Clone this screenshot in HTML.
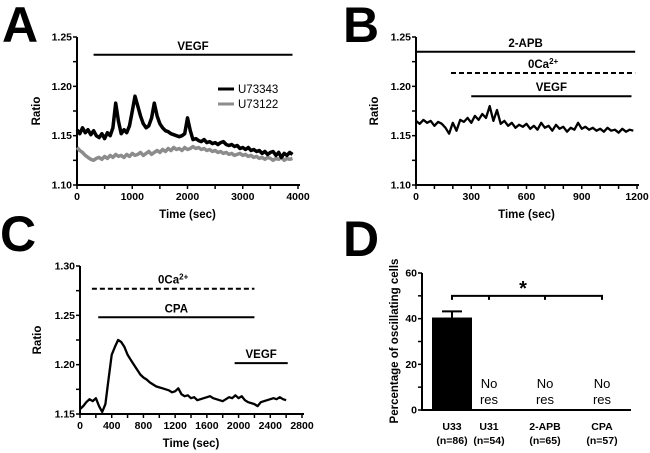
<!DOCTYPE html>
<html><head><meta charset="utf-8"><style>
html,body{margin:0;padding:0;background:#fff;}
svg{display:block;font-family:"Liberation Sans",Arial,sans-serif;}
.tk{font-size:10.5px;font-weight:bold;fill:#000;}
.ti{font-size:11.5px;font-weight:bold;fill:#000;}
.lt{font-size:50px;font-weight:bold;fill:#000;}
</style></head><body>
<svg id="fig" width="650" height="453" viewBox="0 0 650 453">
<text class="lt" x="2" y="42">A</text>
<text class="lt" x="343" y="42">B</text>
<text class="lt" x="0" y="251">C</text>
<text class="lt" x="343" y="256">D</text>
</svg>
<script>
// ---- Panel A data (step 50 s) ----
const aStep = 50;
const aU73343 = [1.156,1.152,1.158,1.153,1.156,1.151,1.155,1.150,1.148,1.152,1.147,1.153,1.150,1.158,1.183,1.165,1.152,1.156,1.153,1.160,1.175,1.190,1.180,1.170,1.162,1.158,1.160,1.168,1.183,1.170,1.162,1.158,1.155,1.154,1.152,1.151,1.150,1.149,1.150,1.152,1.168,1.155,1.146,1.147,1.145,1.144,1.146,1.143,1.144,1.142,1.143,1.141,1.143,1.144,1.141,1.140,1.141,1.139,1.140,1.137,1.138,1.136,1.138,1.135,1.136,1.134,1.135,1.132,1.134,1.131,1.133,1.134,1.130,1.133,1.128,1.132,1.130,1.133,1.131];
const aU73122 = [1.138,1.135,1.133,1.130,1.128,1.126,1.125,1.127,1.128,1.126,1.129,1.127,1.130,1.128,1.131,1.129,1.130,1.128,1.131,1.129,1.132,1.130,1.131,1.133,1.130,1.132,1.134,1.131,1.133,1.135,1.133,1.136,1.134,1.137,1.135,1.138,1.136,1.137,1.135,1.138,1.136,1.137,1.139,1.137,1.138,1.136,1.137,1.135,1.136,1.134,1.135,1.133,1.134,1.132,1.133,1.131,1.132,1.130,1.131,1.132,1.130,1.131,1.129,1.130,1.128,1.129,1.127,1.128,1.126,1.128,1.127,1.125,1.127,1.126,1.128,1.125,1.127,1.126,1.127];
const aXTicks = [0,1000,2000,3000,4000];
const aYTicks = [1.10,1.15,1.20,1.25];
// ---- Panel B data (step 20 s) ----
const bStep = 20;
const bTrace = [1.165,1.162,1.166,1.163,1.165,1.160,1.164,1.162,1.158,1.152,1.163,1.155,1.166,1.164,1.168,1.163,1.170,1.166,1.172,1.168,1.180,1.165,1.176,1.162,1.165,1.160,1.163,1.158,1.161,1.159,1.162,1.157,1.160,1.156,1.163,1.158,1.160,1.155,1.161,1.157,1.159,1.154,1.158,1.156,1.163,1.157,1.159,1.156,1.158,1.155,1.157,1.154,1.158,1.155,1.156,1.153,1.157,1.154,1.156,1.155];
const bXTicks = [0,300,600,900,1200];
const bYTicks = [1.10,1.15,1.20,1.25];
// ---- Panel C data (step 40 s) ----
const cStep = 40;
const cTrace = [1.155,1.158,1.162,1.165,1.163,1.166,1.158,1.152,1.160,1.185,1.210,1.218,1.225,1.223,1.218,1.210,1.205,1.200,1.195,1.190,1.187,1.185,1.182,1.180,1.178,1.177,1.176,1.175,1.174,1.172,1.173,1.176,1.170,1.168,1.169,1.166,1.167,1.164,1.165,1.166,1.167,1.168,1.166,1.165,1.164,1.163,1.165,1.167,1.166,1.169,1.166,1.168,1.164,1.162,1.161,1.160,1.158,1.162,1.163,1.164,1.165,1.166,1.165,1.167,1.165,1.164];
const cXTicks = [0,400,800,1200,1600,2000,2400,2800];
const cYTicks = [1.15,1.20,1.25,1.30];
// ---- Panel D data ----
const dCats = ["U33","U31","2-APB","CPA"];
const dN = ["(n=86)","(n=54)","(n=65)","(n=57)"];
const dValues = [40.5,0,0,0];
const dErr = [2.7,0,0,0];
const dYTicks = [0,20,40,60];

const NS="http://www.w3.org/2000/svg";
const svg=document.getElementById('fig');
function el(tag,attrs,parent,text){const e=document.createElementNS(NS,tag);for(const k in attrs)e.setAttribute(k,attrs[k]);if(text!==undefined)e.textContent=text;(parent||svg).appendChild(e);return e;}
function scale(d0,d1,r0,r1){return v=>r0+(v-d0)*(r1-r0)/(d1-d0);}

function axes(g,x,y,xt,yt,xMinorStep,yMinorStep,fmtX,fmtY,x0px,x1px,y0px,y1px,xExt,yTitle,yTitleX,xTitleY){
  const xa=el('line',{x1:x0px,y1:y0px,x2:xExt,y2:y0px,stroke:'#000','stroke-width':2},g);
  
  
  const ya=el('line',{x1:x0px,y1:y0px+1,x2:x0px,y2:y1px,stroke:'#000','stroke-width':2},g);
  
  
  const xm=xt[0],xM=xt[xt.length-1];
  for(let v=xm;v<=xM+1e-9;v+=xMinorStep){el('line',{x1:x(v),y1:y0px,x2:x(v),y2:y0px+4,stroke:'#000','stroke-width':1.5},g);}
  xt.forEach(v=>{const t=el('text',{x:x(v),y:y0px+15,class:'tk','text-anchor':'middle'},g,fmtX(v));
    
    });
  const ym=yt[0],yM=yt[yt.length-1];
  for(let v=ym;v<=yM+1e-9;v+=yMinorStep){el('line',{x1:x0px-4,y1:y(v),x2:x0px,y2:y(v),stroke:'#000','stroke-width':1.5},g);}
  yt.forEach(v=>{const t=el('text',{x:x0px-5,y:y(v)+3.5,class:'tk','text-anchor':'end'},g,fmtY(v));
    
    });
  const yl=el('text',{x:yTitleX,y:(y0px+y1px)/2,class:'ti','text-anchor':'middle',transform:`rotate(-90 ${yTitleX} ${(y0px+y1px)/2})`},g,yTitle);
  
  
  if(xTitleY){const xl=el('text',{x:(x0px+x1px)/2,y:xTitleY,class:'ti','text-anchor':'middle'},g,'Time (sec)');
    
    }
}
function trace(g,vals,step,x,y,color,w,name){
  const d=vals.map((v,i)=>(i?'L':'M')+x(i*step).toFixed(1)+' '+y(v).toFixed(1)).join('');
  const p=el('path',{d:d,fill:'none',stroke:color,'stroke-width':w,'stroke-linejoin':'round'},g);
  
  
}
function bar(g,x,y,t0,t1,val,label,dashed,name,sup){
  const l=el('line',{x1:x(t0),y1:y(val),x2:x(t1),y2:y(val),stroke:'#000','stroke-width':2,'stroke-dasharray':dashed?'5,3':'none'},g);
  
  
  const t=el('text',{x:(x(t0)+x(t1))/2,y:y(val)-5,class:'ti','text-anchor':'middle'},g,label);
  if(sup){const s=el('tspan',{dy:-4,'font-size':'8px'},t,sup);}
  
  
}
const f2=v=>v.toFixed(2), f0=v=>String(v);

// Panel A
{const g=el('g',{});
 const x=scale(0,4000,77,298), y=scale(1.10,1.25,185,37);
 axes(g,x,y,aXTicks,aYTicks,500,0.025,f0,f2,77,298,185,37,300,'Ratio',40,218);
 trace(g,aU73122,aStep,x,y,'#8c8c8c',3.5,'series-u73122');
 trace(g,aU73343,aStep,x,y,'#000',3.5,'series-u73343');
 bar(g,x,y,300,3900,1.232,'VEGF',false,'vegf');
 const l1=el('line',{x1:218,y1:89,x2:234,y2:89,stroke:'#000','stroke-width':3},g);
 const t1=el('text',{x:238,y:93,'font-size':'11.5px'},g,'U73343');
 const l2=el('line',{x1:218,y1:104,x2:234,y2:104,stroke:'#8c8c8c','stroke-width':3},g);
 const t2=el('text',{x:238,y:108,'font-size':'11.5px'},g,'U73122');
}
// Panel B
{const g=el('g',{});
 const x=scale(0,1200,416,637), y=scale(1.10,1.25,185,37);
 axes(g,x,y,bXTicks,bYTicks,100,0.025,f0,f2,416,637,185,37,639,'Ratio',378,218);
 trace(g,bTrace,bStep,x,y,'#000',2.3,'series-trace-b');
 bar(g,x,y,0,1190,1.235,'2-APB',false,'2apb');
 bar(g,x,y,190,1190,1.2135,'0Ca',true,'zero-ca','2+');
 bar(g,x,y,300,1170,1.190,'VEGF',false,'vegf-b');
}
// Panel C
{const g=el('g',{});
 const x=scale(0,2800,80,302), y=scale(1.15,1.30,414,266);
 axes(g,x,y,cXTicks,cYTicks,200,0.025,f0,f2,80,302,414,266,304,'Ratio',41,447);
 trace(g,cTrace,cStep,x,y,'#000',2.3,'series-trace-c');
 bar(g,x,y,150,2200,1.277,'0Ca',true,'zero-ca-c','2+');
 bar(g,x,y,230,2200,1.248,'CPA',false,'cpa');
 bar(g,x,y,1950,2620,1.2015,'VEGF',false,'vegf-c');
}
// Panel D
{const g=el('g',{});
 const y=scale(0,60,410,273);
 const cx=[452,489,545,602];
 const xa=el('line',{x1:422,y1:410,x2:631,y2:410,stroke:'#000','stroke-width':2},g);
 
 const ya=el('line',{x1:422,y1:411,x2:422,y2:273,stroke:'#000','stroke-width':2},g);
 
 for(let v=0;v<=60;v+=10)el('line',{x1:418,y1:y(v),x2:422,y2:y(v),stroke:'#000','stroke-width':1.5},g);
 dYTicks.forEach(v=>{const t=el('text',{x:417,y:y(v)+3.5,class:'tk','text-anchor':'end'},g,String(v));
   });
 const yl=el('text',{x:398,y:341,class:'ti','text-anchor':'middle',transform:'rotate(-90 398 341)'},g,'Percentage of oscillating cells');
 
 dCats.forEach((c,i)=>{
   if(dValues[i]>0){
     const r=el('rect',{x:cx[i]-20,y:y(dValues[i]),width:40,height:y(0)-y(dValues[i]),fill:'#000'},g);
     
     const e=el('path',{d:`M${cx[i]} ${y(dValues[i])}V${y(dValues[i]+dErr[i])}M${cx[i]-10} ${y(dValues[i]+dErr[i])}H${cx[i]+10}`,stroke:'#000','stroke-width':2,fill:'none'},g);
     
   } else {
     const t=el('text',{x:cx[i],y:388,'font-size':'13px','text-anchor':'middle'},g,'No');
     
     const t2=el('text',{x:cx[i],y:404,'font-size':'13px','text-anchor':'middle'},g,'res');
     
   }
   const cl=el('text',{x:cx[i],y:430,class:'tk','font-size':'10.5px','text-anchor':'middle'},g,c);
   
   const nl=el('text',{x:cx[i],y:444,class:'tk','font-size':'10.5px','text-anchor':'middle'},g,dN[i]);
   
 });
 const by=y(50);
 let d=`M${cx[0]} ${by+4}V${by}H${cx[3]}V${by+4}`;
 for(let i=1;i<3;i++)d+=`M${cx[i]} ${by}V${by+4}`;
 const br=el('path',{d:d,stroke:'#000','stroke-width':2,fill:'none'},g);
 
 const st=el('text',{x:523,y:by-1,'font-size':'20px','font-weight':'bold','text-anchor':'middle'},g,'*');
 
}
</script>
</body></html>
